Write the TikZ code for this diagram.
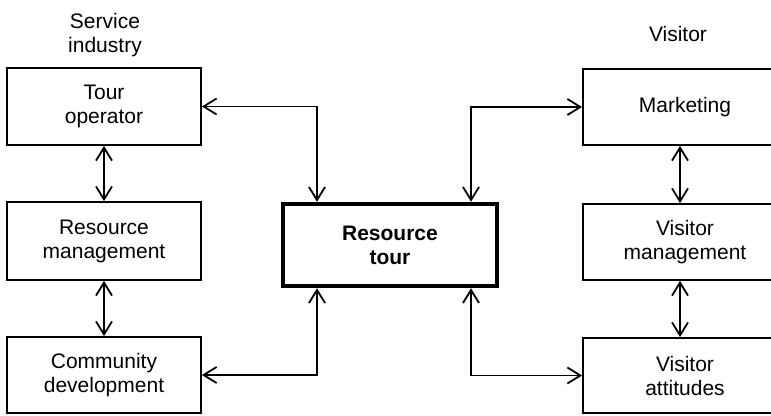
\documentclass[tikz,border=0pt]{standalone}
\usepackage{fontspec}
\setmainfont{Liberation Sans}
\usetikzlibrary{arrows.meta,calc}
\begin{document}
\begin{tikzpicture}[x=1pt,y=1pt,
  box/.style={draw, line width=1.8pt, minimum width=194pt, align=center, inner sep=0pt,
    font=\fontsize{21}{24}\selectfont},
  rbox/.style={box, minimum width=204pt},
  mainbox/.style={draw, line width=4.5pt, minimum width=214pt, minimum height=82pt, align=center,
    inner sep=0pt, font=\fontsize{21}{24}\selectfont\bfseries},
  lbl/.style={align=center, inner sep=0pt, font=\fontsize{21}{24}\selectfont},
  link/.style={line width=1.8pt, {Straight Barb[length=13pt,width=16pt,line width=1.8pt]}-{Straight Barb[length=13pt,width=16pt,line width=1.8pt]}}]
\useasboundingbox (0,0) rectangle (771,415);
\clip (0,0) rectangle (771,415);
\fill[white] (0,0) rectangle (771,415);
% headings
\node[lbl] (hs) at (105,380) {Service\\industry};
\node[lbl] (hv) at (678,381) {Visitor};
% left column
\node[box, minimum height=77pt] (tour) at (104,308.5) {Tour\\operator};
\node[box, minimum height=78pt] (rm) at (104,174) {Resource\\management};
\node[box, minimum height=76pt] (cd) at (104,40) {Community\\development};
% centre
\node[mainbox] (rt) at (390,170) {Resource\\tour};
% right column
\node[rbox, minimum height=76pt] (mk) at (685,308) {Marketing};
\node[rbox, minimum height=76pt] (vm) at (685,173) {Visitor\\management};
\node[rbox, minimum height=75pt] (va) at (685,39.5) {Visitor\\attitudes};
% column positions of the feeder lines
\coordinate (xl) at (317,0);
\coordinate (xr) at (471,0);
% connectors
\draw[link] (tour.east) -| (xl |- rt.north);
\draw[link] (cd.east) -| (xl |- rt.south);
\draw[link] (mk.west) -| (xr |- rt.north);
\draw[link] (va.west) -| (xr |- rt.south);
\draw[link] (tour.south) -- (rm.north);
\draw[link] (rm.south) -- (cd.north);
\draw[link] ($(mk.south)+(-5,0)$) -- ($(vm.north)+(-5,0)$);
\draw[link] ($(vm.south)+(-5,0)$) -- ($(va.north)+(-5,0)$);
\end{tikzpicture}
\end{document}
